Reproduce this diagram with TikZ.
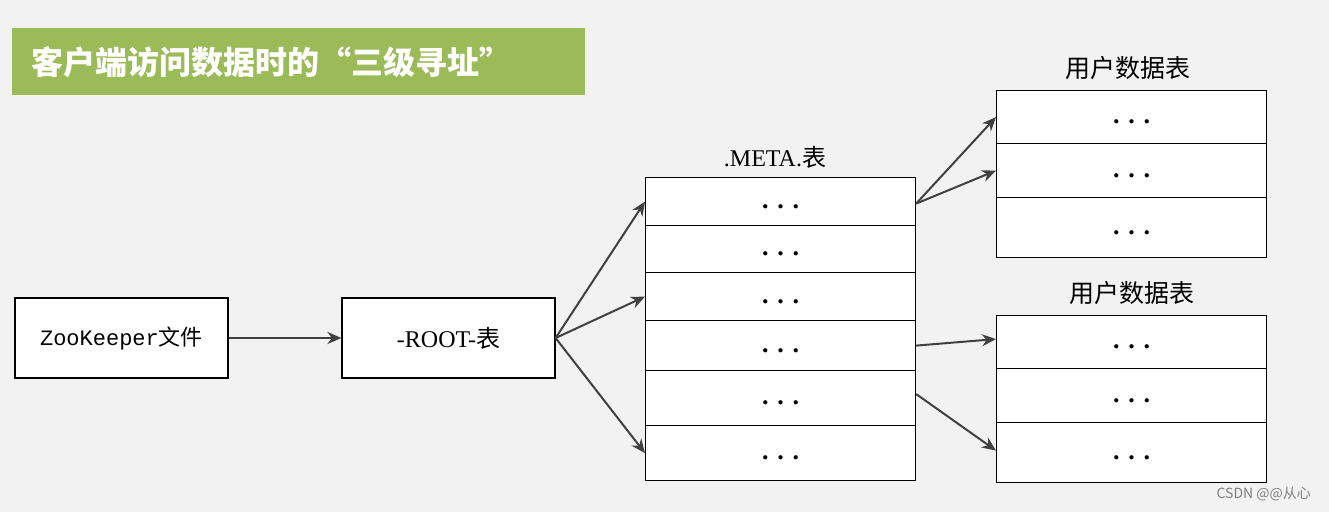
\documentclass[tikz,border=0pt]{standalone}
\usepackage{fontspec}
\setmainfont{Liberation Serif}
\newfontfamily\cjk{Noto Sans CJK SC}
\newfontfamily\monof{Liberation Mono}
\usetikzlibrary{arrows.meta}
\definecolor{bg}{HTML}{F2F2F2}
\definecolor{ttl}{HTML}{9BBB59}
\definecolor{arr}{HTML}{404040}
\tikzset{
 cell/.style={draw=black,fill=white,line width=0.6pt,minimum width=135pt,inner sep=0pt,anchor=north west},
 box/.style={draw=black,fill=white,line width=0.6pt,minimum width=106.5pt,minimum height=40pt,inner sep=0pt},
 conn/.style={draw=arr,line width=1pt,-{Stealth[length=7pt,width=6pt]}},
 dots/.style={font=\bfseries\fontsize{13}{14}\selectfont,yshift=-2.5pt},
 hdr/.style={font=\cjk\fontsize{12.5}{14}\selectfont}
}
\begin{document}
\begin{tikzpicture}[x=0.5pt,y=-0.5pt]
\fill[bg] (0,0) rectangle (1329,512);
\useasboundingbox (0,0) rectangle (1329,512);
\node[fill=ttl,minimum width=286.5pt,minimum height=33.5pt,inner sep=0pt,anchor=north west] (title) at (12,28) {};
\node[text=white,font=\cjk\bfseries\fontsize{16}{18}\selectfont,anchor=west] (titletext) at (24,62) {客户端访问数据时的“三级寻址”};
\node[box] (zk) at (121.5,338) {\monof\fontsize{11}{13}\selectfont ZooKeeper{\cjk 文件}};
\node[box] (root) at (448.5,338) {\fontsize{12}{14}\selectfont -ROOT-{\cjk 表}};
% META table
\node (mtitle) at (775,157) {\fontsize{12}{14}\selectfont .META.{\cjk 表}};
\foreach \i/\y/\h in {1/177/48,2/225/47,3/272/48,4/320/50,5/370/55,6/425/55}{
  \node[cell,minimum height=\h*0.5pt] (m\i) at (645,\y) {};
  \node[dots] (md\i) at (m\i.center) {. . .};
}
% user table 1
\node[hdr] (u1title) at (1128,68) {用户数据表};
\foreach \i/\y/\h in {1/90/53,2/143/54,3/197/60}{
  \node[cell,minimum height=\h*0.5pt] (a\i) at (996,\y) {};
  \node[dots] (ad\i) at (a\i.center) {. . .};
}
% user table 2
\node[hdr] (u2title) at (1132,293) {用户数据表};
\foreach \i/\y/\h in {1/315/53,2/368/54,3/422/60}{
  \node[cell,minimum height=\h*0.5pt] (b\i) at (996,\y) {};
  \node[dots] (bd\i) at (b\i.center) {. . .};
}
\draw[conn] (zk.east) -- (root.west);
\draw[conn] (root.east) -- (m1.west);
\draw[conn] (root.east) -- (m3.west);
\draw[conn] (root.east) -- (m6.west);
\draw[conn] ([yshift=-1pt]m1.east) -- (a1.west);
\draw[conn] ([yshift=-1pt]m1.east) -- (a2.west);
\draw[conn] (m4.east) -- ([yshift=1.5pt]b1.west);
\draw[conn] ([yshift=2pt]m5.east) -- ([yshift=1pt]b3.west);
\node[text=gray,font=\cjk\fontsize{7}{8}\selectfont,anchor=east] (wm) at (1318,494) {CSDN @@从心};
\end{tikzpicture}
\end{document}
